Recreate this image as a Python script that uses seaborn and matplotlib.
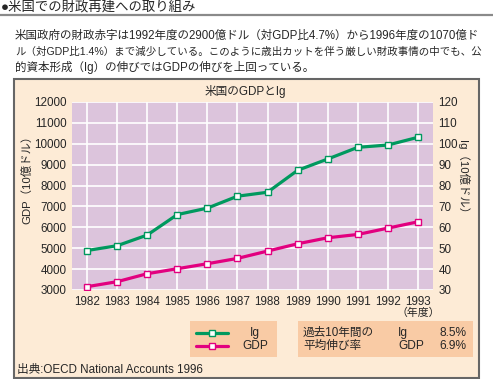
import matplotlib
matplotlib.use("Agg")
import matplotlib.pyplot as plt
import seaborn as sns
import pandas as pd
from matplotlib.patches import Rectangle
from matplotlib.lines import Line2D

# ---- data ----
years = [1982, 1983, 1984, 1985, 1986, 1987, 1988, 1989, 1990, 1991, 1992, 1993]
gdp = [3159, 3398, 3780, 4019, 4258, 4513, 4863, 5213, 5500, 5659, 5962, 6264]
ig = [48.9, 51.2, 56.3, 66.1, 69.2, 74.9, 76.8, 87.3, 92.7, 98.3, 99.4, 103.1]
gdp_ticks = [3000, 4000, 5000, 6000, 7000, 8000, 9000, 10000, 11000, 12000]
ig_ticks = [30, 40, 50, 60, 70, 80, 90, 100, 110, 120]
header = "●米国での財政再建への取り組み"
para = ["米国政府の財政赤字は1992年度の2900億ドル（対GDP比4.7%）から1996年度の1070億ド",
        "ル（対GDP比1.4%）まで減少している。このように歳出カットを伴う厳しい財政事情の中でも、公",
        "的資本形成（Ig）の伸びではGDPの伸びを上回っている。"]
title = "米国のGDPとIg"
stats_labels = ["過去10年間の", "平均伸び率"]
stats_series = ["Ig", "GDP"]
stats_values = ["8.5%", "6.9%"]
source = "出典:OECD National Accounts 1996"

df = pd.DataFrame({"year": years, "GDP": gdp, "Ig": ig})

sns.set_theme(style="white")
plt.rcParams["font.family"] = ["Liberation Sans", "Noto Sans CJK JP"]

W, H = 493, 379
GREEN = "#00995e"
MAG = "#e2007f"
PLOTBG = "#dcc4dc"
PEACH = "#fdebd6"
BOX = "#f9cba5"

fig = plt.figure(figsize=(W / 100, H / 100), dpi=100)
fig.patch.set_facecolor("white")
renderer = fig.canvas.get_renderer()

def fx(x):
    return x / W

def fy(y):
    return 1 - y / H

# header
fig.text(fx(1), fy(7.5), header, fontsize=9.6, va="center", ha="left")
fig.add_artist(Line2D([0, 1], [fy(14.5), fy(14.5)], transform=fig.transFigure,
                      color="#8a8a8a", lw=1.6))

# paragraph: first two lines fitted to the text column width
target_w = 478 - 15
base_fs = 8.4
fs_first = None
for i, line in enumerate(para):
    t = fig.text(fx(15), fy(36 + 15.5 * i), line, fontsize=base_fs, va="center", ha="left")
    if i < 2:
        w = t.get_window_extent(renderer=renderer).width
        t.set_fontsize(base_fs * target_w / w)
        if fs_first is None:
            fs_first = base_fs * target_w / w
    else:
        t.set_fontsize(fs_first)

# frame
fig.add_artist(Rectangle((fx(14), fy(378)), (479 - 14) / W, (378 - 79) / H,
                         transform=fig.transFigure, facecolor=PEACH,
                         edgecolor="#666666", lw=1.5, zorder=0))

# axes
ax = fig.add_axes([fx(72), fy(290), (433 - 72) / W, (290 - 102) / H])
ax.set_facecolor(PLOTBG)
sns.lineplot(data=df, x="year", y="GDP", ax=ax, color=MAG, lw=2.3, marker="s",
             markersize=4.5, markerfacecolor="white", markeredgecolor=MAG,
             markeredgewidth=1.0, legend=False)
ax.set_xlim(1981.5, 1993.5)
ax.set_ylim(3000, 12000)
ax.set_xticks(years)
ax.set_xticklabels([str(y) for y in years], fontsize=8.4)
ax.set_yticks(gdp_ticks)
ax.set_yticklabels([str(t) for t in gdp_ticks], fontsize=8.4)
ax.grid(True, color="white", lw=1.2)
ax.set_axisbelow(True)
ax.tick_params(length=0, pad=4)
ax.set_xlabel("")
ax.set_ylabel("")
for s in ax.spines.values():
    s.set_visible(False)

ax2 = ax.twinx()
sns.lineplot(data=df, x="year", y="Ig", ax=ax2, color=GREEN, lw=2.3, marker="s",
             markersize=4.5, markerfacecolor="white", markeredgecolor=GREEN,
             markeredgewidth=1.0, legend=False)
ax2.set_ylim(30, 120)
ax2.set_yticks(ig_ticks)
ax2.set_yticklabels([str(t) for t in ig_ticks], fontsize=8.4)
ax2.tick_params(length=0, pad=4)
ax2.set_ylabel("")
ax2.grid(False)
for s in ax2.spines.values():
    s.set_visible(False)

# labels
fig.text(fx(245), fy(92), title, fontsize=8.4, ha="center", va="center")
fig.text(fx(27), fy(177), "GDP（10億ドル）", fontsize=8.2, rotation=90,
         ha="center", va="center")
fig.text(fx(463), fy(180), "Ig（10億ドル）", fontsize=8.2, rotation=270,
         ha="center", va="center")
fig.text(fx(418), fy(313), "（年度）", fontsize=7.8, ha="center", va="center")

# legend box
fig.add_artist(Rectangle((fx(190), fy(357)), (277 - 190) / W, (357 - 321) / H,
                         transform=fig.transFigure, facecolor=BOX,
                         edgecolor="none", zorder=1))
for yy, col, name in [(333, GREEN, "Ig"), (346, MAG, "GDP")]:
    fig.add_artist(Line2D([fx(196), fx(228)], [fy(yy), fy(yy)], transform=fig.transFigure,
                          color=col, lw=2.3, zorder=2))
    fig.add_artist(Line2D([fx(212)], [fy(yy)], transform=fig.transFigure, marker="s",
                          markersize=4.5, markerfacecolor="white", markeredgecolor=col,
                          markeredgewidth=1.0, lw=0, zorder=3))
    fig.text(fx(255), fy(yy), name, fontsize=8.6, ha="center", va="center", zorder=3)

# stats box
fig.add_artist(Rectangle((fx(298), fy(357)), (473 - 298) / W, (357 - 321) / H,
                         transform=fig.transFigure, facecolor=BOX,
                         edgecolor="none", zorder=1))
for i, yy in enumerate([333, 346]):
    fig.text(fx(303), fy(yy), stats_labels[i], fontsize=8.4, ha="left", va="center", zorder=3)
    fig.text(fx(398), fy(yy), stats_series[i], fontsize=8.6, ha="left", va="center", zorder=3)
    fig.text(fx(466), fy(yy), stats_values[i], fontsize=8.6, ha="right", va="center", zorder=3)

fig.text(fx(17), fy(370), source, fontsize=8.4, ha="left", va="center")

fig.savefig("out.png", dpi=100, facecolor="white")
